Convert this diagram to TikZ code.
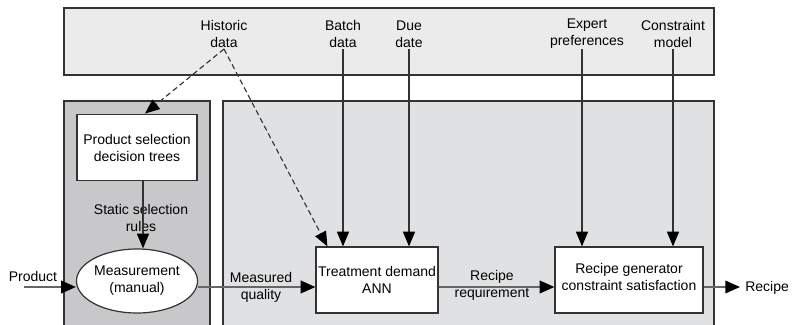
\documentclass[tikz,border=0pt]{standalone}
\usepackage{fontspec}
\setmainfont{Liberation Sans}
\usetikzlibrary{arrows.meta,shapes.geometric}
\definecolor{toppanel}{RGB}{235,235,236}
\definecolor{leftpanel}{RGB}{200,200,202}
\definecolor{rightpanel}{RGB}{224,225,227}
\begin{document}
\begin{tikzpicture}[x=0.75pt,y=-0.75pt,
  every node/.style={font=\fontsize{10.5}{12.75}\selectfont, align=center, inner sep=0pt},
  panel/.style={draw=black!80, line width=1pt},
  procbox/.style={draw=black!80, fill=white, line width=0.9pt, inner sep=1pt},
  flow/.style={draw=black!60, line width=1.1pt, -{Triangle[length=11pt,width=9.5pt,color=black]}},
  feed/.style={draw=black!80, line width=0.85pt, -{Triangle[length=11pt,width=9pt,color=black]}},
  hist/.style={feed, dash pattern=on 4pt off 2.5pt},
]
\useasboundingbox (0,0) rectangle (794,325);
\clip (0,0) rectangle (794,325);

% background panels
\draw[panel, fill=toppanel]   (64,8)   rectangle (714,75);
\draw[panel, fill=leftpanel]  (64,101) rectangle (210,335);
\draw[panel, fill=rightpanel] (223,101) rectangle (714,335);

% process blocks
\node[procbox, minimum width=90pt, minimum height=50pt] (sel) at (137,147.5) {Product selection\\decision trees};
\node[procbox, ellipse, inner sep=0pt, minimum width=90pt, minimum height=48pt] (meas) at (137,281) {Measurement\\(manual)};
\node[procbox, minimum width=91.5pt, minimum height=49.5pt] (treat) at (377,280) {Treatment demand\\ANN};
\node[procbox, text depth=5pt, minimum width=111pt, minimum height=49.5pt] (gen) at (629,280) {Recipe generator\\constraint satisfaction};

% inputs
\node (hist)   at (224,34) {Historic\\data};
\node (batch)  at (343,34) {Batch\\data};
\node (due)    at (409,34) {Due\\date};
\node (expert) at (587,34) {Expert\\preferences};
\node (cmodel) at (673,34) {Constraint\\model};
\node (prod)   at (33,276) {Product};
\node[anchor=west, inner sep=3.75pt] (recipe) at (740,288) {Recipe};

% connector labels
\node (ssr) at (141,218) {Static selection\\rules};
\node (mq)  at (261,287.5) {Measured\\quality};
\node (rr)  at (492,285) {Recipe\\requirement};

% reference levels and offsets
\coordinate (srcy)  at (0,49);
\coordinate (flowy) at (0,287);
\coordinate (pin)   at (24,287);
\coordinate (ex)    at ([xshift=-3.75pt]expert.center);
\coordinate (sx)    at ([xshift=4.5pt]sel.south);

% data feeds
\draw[hist] (hist.center |- srcy) -- ([xshift=6pt]sel.north);
\draw[hist] (hist.center |- srcy) -- ([xshift=9pt]treat.north west);
\draw[feed] (batch.center |- srcy) -- (batch.center |- treat.north);
\draw[feed] (due.center |- srcy) -- (due.center |- treat.north);
\draw[feed] (ex |- srcy) -- (ex |- gen.north);
\draw[feed] (cmodel.center |- srcy) -- (cmodel.center |- gen.north);
\draw[feed] (sx) -- (sx |- meas.north);

% main flow
\draw[flow] (pin) -- (meas.west |- flowy);
\draw[flow] (meas.east |- flowy) -- (treat.west |- flowy);
\draw[flow] (treat.east |- flowy) -- (gen.west |- flowy);
\draw[flow] (gen.east |- flowy) -- (recipe.west |- flowy);
\end{tikzpicture}
\end{document}
